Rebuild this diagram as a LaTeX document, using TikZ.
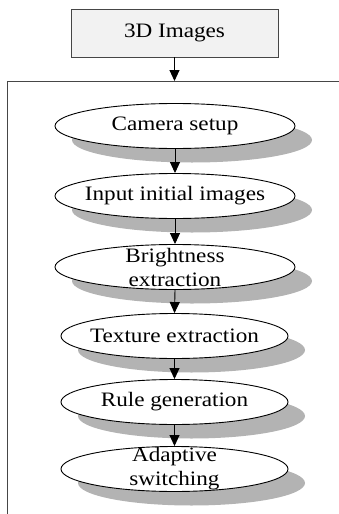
\documentclass[tikz,border=0pt]{standalone}
\usepackage{fontspec}
\setmainfont{Liberation Serif}[FakeStretch=1.13]
\usetikzlibrary{shapes.geometric,arrows.meta,shadows}
\definecolor{shadowgray}{RGB}{179,179,179}
\definecolor{boxfill}{RGB}{242,242,242}
\definecolor{framegray}{RGB}{70,70,70}
\tikzset{
  stepell/.style={ellipse, draw=black, line width=0.9pt, fill=white, inner sep=0pt,
    minimum height=45pt,
    drop shadow={shadow xshift=17pt, shadow yshift=-14pt, fill=shadowgray, opacity=1}},
  wideell/.style={stepell, minimum width=240pt},
  narrowell/.style={stepell, minimum width=227pt},
  lbl/.style={font=\fontsize{20.5}{24}\selectfont, align=center, inner sep=0pt},
  flow/.style={line width=0.9pt, -{Triangle[length=11pt, width=10pt]}},
}
\begin{document}
\begin{tikzpicture}[x=1pt, y=-1pt]
\useasboundingbox (0,0) rectangle (339,514);
% top box
\node[draw=framegray, line width=0.9pt, fill=boxfill, minimum width=207pt, minimum height=48pt, inner sep=0pt,
  font=\fontsize{20.5}{24}\selectfont] (img) at (174.5,33) {3D Images};
% frame
\coordinate (ftop) at (174.5,81);
\draw[framegray, line width=0.9pt] (339,81) -- (7,81) -- (7,514);
% ellipses
\node[wideell] (e1) at (175,126) {};
\node[lbl] at (e1) {Camera setup};
\node[wideell] (e2) at (175,196) {};
\node[lbl] at (e2) {Input initial images};
\node[wideell] (e3) at (175,267) {};
\node[lbl] at (e3) {Brightness\\extraction};
\node[narrowell] (e4) at (174.5,336) {};
\node[lbl] at (e4) {Texture extraction};
\node[narrowell] (e5) at (174.5,402) {};
\node[lbl] at (e5) {Rule generation};
\node[narrowell] (e6) at (174.5,469) {};
\node[lbl] at (e6) {Adaptive\\switching};
% arrows
\draw[flow] (img.south) -- (ftop);
\draw[flow] (e1.south) -- (e2.north);
\draw[flow] (e2.south) -- (e3.north);
\draw[flow] (e3.south) -- (e4.north);
\draw[flow] (e4.south) -- (e5.north);
\draw[flow] (e5.south) -- (e6.north);
\end{tikzpicture}
\end{document}
